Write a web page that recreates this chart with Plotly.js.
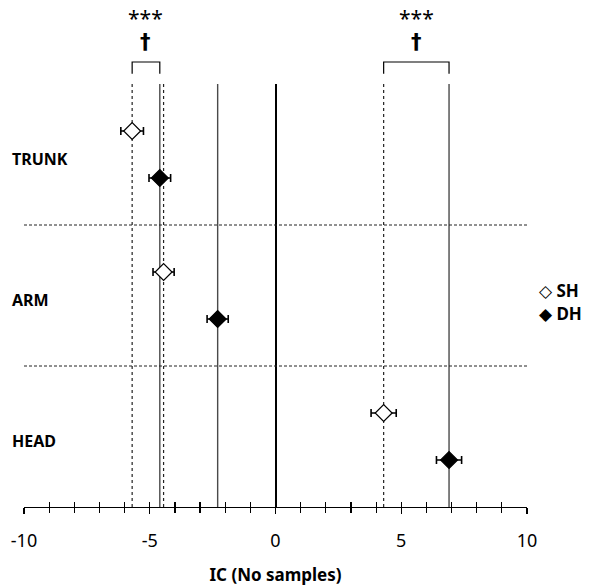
<!DOCTYPE html>
<html>
<head>
<meta charset="utf-8">
<script src="https://cdn.plot.ly/plotly-3.0.1.min.js"></script>
<style>html,body{margin:0;padding:0;background:#fff;}</style>
</head>
<body>
<div id="chart" style="width:607px;height:586px;"></div>
<script>
const categories = ["TRUNK", "ARM", "HEAD"];
const seriesNames = ["SH", "DH"];
const seriesGlyphs = ["◇", "◆"];
const shValues = [-5.7, -4.45, 4.3];
const shErrors = [0.45, 0.42, 0.5];
const dhValues = [-4.6, -2.3, 6.9];
const dhErrors = [0.43, 0.42, 0.5];
const sigStars = ["***", "", "***"];
const sigDagger = ["†", "", "†"];
const xTickVals = [-10, -5, 0, 5, 10];

const FONT = "Noto Sans, Open Sans, sans-serif";
const shY = categories.map((c, i) => 3 * i);
const dhY = categories.map((c, i) => 3 * i + 1);
const yTop = -1, yBottom = 8;

const traces = [];
shValues.forEach(v => traces.push({
  x: [v, v], y: [yTop, yBottom], mode: "lines", showlegend: false, hoverinfo: "skip",
  line: {color: "#222", width: 1.2, dash: "3px,3px"}
}));
dhValues.forEach(v => traces.push({
  x: [v, v], y: [yTop, yBottom], mode: "lines", showlegend: false, hoverinfo: "skip",
  line: {color: "#4a4a4a", width: 1.4}
}));
traces.push({
  x: shValues, y: shY, mode: "markers", name: seriesNames[0], showlegend: false,
  marker: {symbol: "diamond", size: 13, color: "white", line: {color: "black", width: 1.2}},
  error_x: {type: "data", array: shErrors, visible: true, color: "black", thickness: 1.6, width: 4}
});
traces.push({
  x: dhValues, y: dhY, mode: "markers", name: seriesNames[1], showlegend: false,
  marker: {symbol: "diamond", size: 13, color: "black", line: {color: "black", width: 1.2}},
  error_x: {type: "data", array: dhErrors, visible: true, color: "black", thickness: 1.6, width: 4}
});
traces.push({x: [null], y: [null], xaxis: "x2", showlegend: false, hoverinfo: "skip"});

const shapes = [];
for (let i = 0; i < categories.length - 1; i++) {
  const yy = 3 * i + 2;
  shapes.push({type: "line", xref: "paper", yref: "y", x0: 0, x1: 1, y0: yy, y1: yy,
    line: {color: "#222", width: 1, dash: "3px,2px"}});
}
const annotations = [];
categories.forEach((c, i) => {
  annotations.push({xref: "paper", yref: "y", x: -0.028, y: 3 * i + 0.6, text: "<b>" + c + "</b>",
    showarrow: false, xanchor: "left", yanchor: "middle", font: {family: FONT, size: 16, color: "black"}});
  if (sigStars[i]) {
    const a = shValues[i], b = dhValues[i];
    shapes.push({type: "path", xref: "x", yref: "paper",
      path: `M ${a},1.024 L ${a},1.052 L ${b},1.052 L ${b},1.024`,
      line: {color: "black", width: 1.2}});
    annotations.push({xref: "x", yref: "paper", x: (a + b) / 2, y: 1.157, text: sigStars[i],
      showarrow: false, xanchor: "center", yanchor: "middle",
      font: {family: FONT, size: 21, color: "black"}});
    annotations.push({xref: "x", yref: "paper", x: (a + b) / 2, y: 1.1, text: "<b>" + sigDagger[i] + "</b>",
      showarrow: false, xanchor: "center", yanchor: "middle",
      font: {family: "DejaVu Sans, sans-serif", size: 21, color: "black"}});
  }
});
// legend as text (paper coords, right of the plot)
seriesNames.forEach((n, i) => {
  annotations.push({xref: "paper", yref: "paper", x: 1.02, y: 0.513 - 0.056 * i,
    text: seriesGlyphs[i] + " <b>" + n + "</b>", showarrow: false, xanchor: "left", yanchor: "middle",
    font: {family: FONT, size: 17, color: "black"}});
});

const layout = {
  width: 607, height: 586,
  margin: {l: 24, r: 80, t: 84, b: 79},
  paper_bgcolor: "white", plot_bgcolor: "white",
  font: {family: FONT, color: "black"},
  showlegend: false,
  xaxis: {
    range: [-10, 10], tickvals: xTickVals, ticktext: xTickVals.map(String),
    showgrid: false, zeroline: true, zerolinecolor: "black", zerolinewidth: 2,
    showline: true, linecolor: "black", linewidth: 1.2,
    ticks: "outside", ticklen: 6, tickwidth: 1.2, tickcolor: "black",
    minor: {dtick: 1, ticks: "outside", ticklen: 5, tickwidth: 1.2, tickcolor: "black"},
    tickfont: {family: FONT, size: 18, color: "black"}, ticklabelstandoff: 11,
    title: {text: "<b>IC (No samples)</b>", font: {family: FONT, size: 17, color: "black"}, standoff: 22},
    fixedrange: true
  },
  xaxis2: {
    overlaying: "x", matches: "x", anchor: "y", side: "bottom",
    range: [-10, 10], dtick: 1, showticklabels: false, showgrid: false, zeroline: false,
    showline: false, ticks: "inside", ticklen: 5, tickwidth: 1.2, tickcolor: "black"
  },
  yaxis: {
    range: [yBottom, yTop], showgrid: false, zeroline: false, showline: false,
    showticklabels: false, ticks: "", fixedrange: true
  },
  shapes: shapes,
  annotations: annotations
};

Plotly.newPlot("chart", traces, layout, {displayModeBar: false, staticPlot: true});
</script>
</body>
</html>
